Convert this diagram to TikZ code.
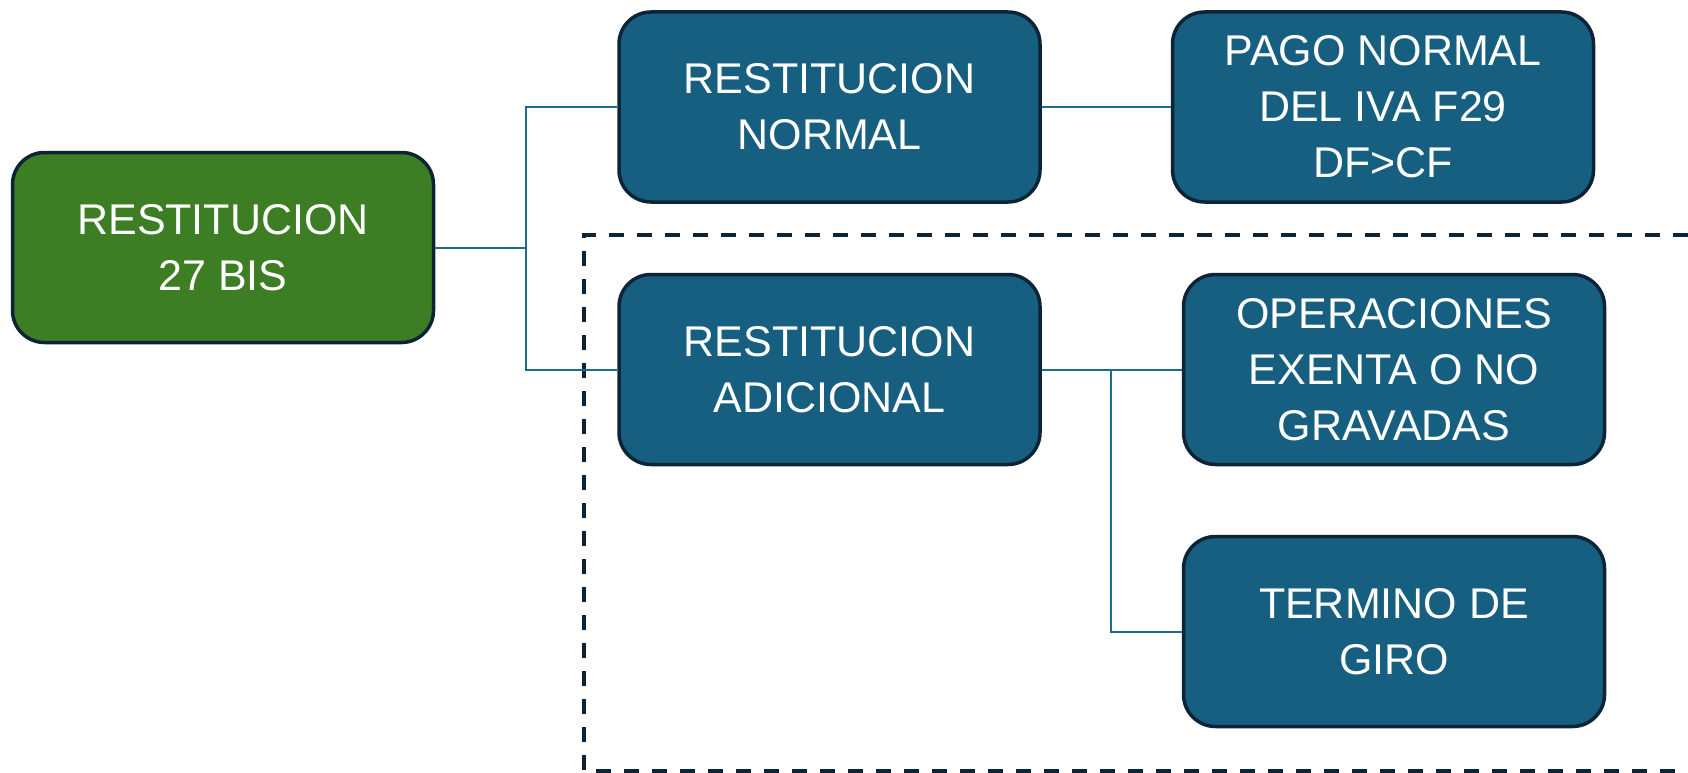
\documentclass[tikz,border=0pt]{standalone}
\usepackage{fontspec}
\setmainfont{Liberation Sans}
\definecolor{boxblue}{HTML}{175F80}
\definecolor{boxgreen}{HTML}{3D7D24}
\definecolor{edge}{HTML}{0D2437}
\definecolor{wire}{HTML}{1E6B90}
\tikzset{
  card/.style={draw=edge, line width=3.5pt, rounded corners=32pt, fill=boxblue,
    minimum width=421pt, minimum height=190pt, text=white, align=center,
    inner sep=0pt, font=\fontsize{43}{56}\selectfont},
  greencard/.style={card, fill=boxgreen},
  wireline/.style={draw=wire, line width=2pt},
  frame/.style={draw=edge, line width=3.5pt, dash pattern=on 15pt off 13pt}
}
\begin{document}
\begin{tikzpicture}[x=1pt,y=-1pt]
\useasboundingbox (0,0) rectangle (1688,773);
\coordinate (fa) at (1688,235);
\coordinate (fb) at (584,235);
\coordinate (fc) at (584,771);
\coordinate (fd) at (1688,771);
\draw[frame] (fa) -- (fb) -- (fc) -- (fd);
\node[greencard] (root) at (223,247.5) {RESTITUCION\\27 BIS};
\node[card] (rn) at (829.5,107) {RESTITUCION\\NORMAL};
\node[card] (pago) at (1383,107) {PAGO NORMAL\\DEL IVA F29\\DF>CF};
\node[card] (ra) at (829.5,369.5) {RESTITUCION\\ADICIONAL};
\node[card] (oper) at (1394,369.5) {OPERACIONES\\EXENTA O NO\\GRAVADAS};
\node[card] (term) at (1394,631.5) {TERMINO DE\\GIRO};
\coordinate (j1) at (526,247.5);
\coordinate (j2) at (1111,369.5);
\draw[wireline] (root.east) -- (j1);
\draw[wireline] (j1) |- (rn.west);
\draw[wireline] (j1) |- (ra.west);
\draw[wireline] (rn.east) -- (pago.west);
\draw[wireline] (ra.east) -- (oper.west);
\draw[wireline] (j2) |- (term.west);
\end{tikzpicture}
\end{document}
